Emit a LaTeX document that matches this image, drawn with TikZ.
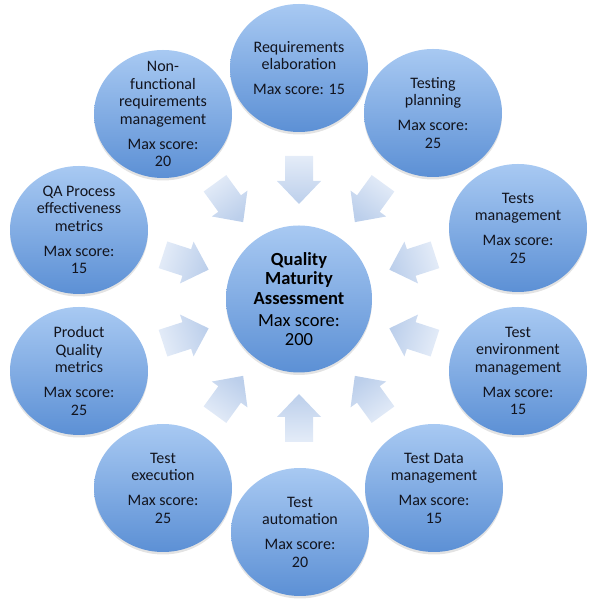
\documentclass[tikz,border=0pt]{standalone}
\usepackage{fontspec}
\setmainfont{Carlito}
\usetikzlibrary{shapes.geometric,shadows,calc}
\definecolor{bubtop}{RGB}{168,201,242}
\definecolor{bubbot}{RGB}{92,144,213}
\definecolor{arrtail}{RGB}{228,236,248}
\definecolor{arrtip}{RGB}{188,207,235}
\definecolor{txt}{RGB}{18,20,30}
\begin{document}
\begin{tikzpicture}[x=1pt,y=1pt,
  bubble/.style={ellipse, minimum width=138pt, minimum height=128pt, inner sep=0pt,
    top color=bubtop, bottom color=bubbot,
    drop shadow={opacity=0.22, shadow xshift=0pt, shadow yshift=-2.5pt}},
  bigbubble/.style={bubble, minimum width=146pt, minimum height=147pt},
  btext/.style={align=center, text=txt, inner sep=0pt, font=\fontsize{16}{17.5}\selectfont},
  ctext/.style={align=center, text=black, inner sep=0pt, font=\fontsize{18.5}{19.6}\selectfont},
  blockarrow/.style={top color=arrtail, bottom color=arrtip}
]
\useasboundingbox (0,0) rectangle (608,599);

% centre
\node[bigbubble] (qma) at (299,300) {};
\node[ctext] (qmaT) at (qma.center) {\textbf{Quality}\\\textbf{Maturity}\\\textbf{Assessment}\\[2pt]Max score:\\200};

% outer bubbles
\node[bubble] (req) at (299,531) {};
\node[bubble] (tp)  at (433,486) {};
\node[bubble] (tm)  at (518,371) {};
\node[bubble] (te)  at (518,228) {};
\node[bubble] (td)  at (434,111) {};
\node[bubble] (ta)  at (300,67)  {};
\node[bubble] (tx)  at (163,111) {};
\node[bubble] (pq)  at (79,228)  {};
\node[bubble] (qa)  at (79,369)  {};
\node[bubble] (nf)  at (163,485) {};

\node[btext] (reqT) at (req.center) {Requirements\\elaboration\\[7.5pt]Max score: 15};
\node[btext] (tpT)  at (tp.center)  {Testing\\planning\\[7.5pt]Max score:\\25};
\node[btext] (tmT)  at (tm.center)  {Tests\\management\\[7.5pt]Max score:\\25};
\node[btext] (teT)  at (te.center)  {Test\\environment\\management\\[7.5pt]Max score:\\15};
\node[btext] (tdT)  at (td.center)  {Test Data\\management\\[7.5pt]Max score:\\15};
\node[btext] (taT)  at (ta.center)  {Test\\automation\\[7.5pt]Max score:\\20};
\node[btext] (txT)  at (tx.center)  {Test\\execution\\[7.5pt]Max score:\\25};
\node[btext] (pqT)  at (pq.center)  {Product\\Quality\\metrics\\[7.5pt]Max score:\\25};
\node[btext] (qaT)  at (qa.center)  {QA Process\\effectiveness\\metrics\\[7.5pt]Max score:\\15};
\node[btext] (nfT)  at (nf.center)  {Non-\\functional\\requirements\\management\\[7.5pt]Max score:\\20};

% block arrows pointing to the centre
\foreach \a in {90,54,18,-18,-54,-90,-126,-162,162,126}{
  \pgfmathsetmacro\sa{\a-90}
  \shade[blockarrow, shading angle=\sa]
    ($(qma.center)+(\a:143pt)+(\a+90:14pt)$) --
    ($(qma.center)+(\a:118pt)+(\a+90:14pt)$) --
    ($(qma.center)+(\a:118pt)+(\a+90:22pt)$) --
    ($(qma.center)+(\a:95pt)$) --
    ($(qma.center)+(\a:118pt)+(\a-90:22pt)$) --
    ($(qma.center)+(\a:118pt)+(\a-90:14pt)$) --
    ($(qma.center)+(\a:143pt)+(\a-90:14pt)$) -- cycle;
}
\end{tikzpicture}
\end{document}
